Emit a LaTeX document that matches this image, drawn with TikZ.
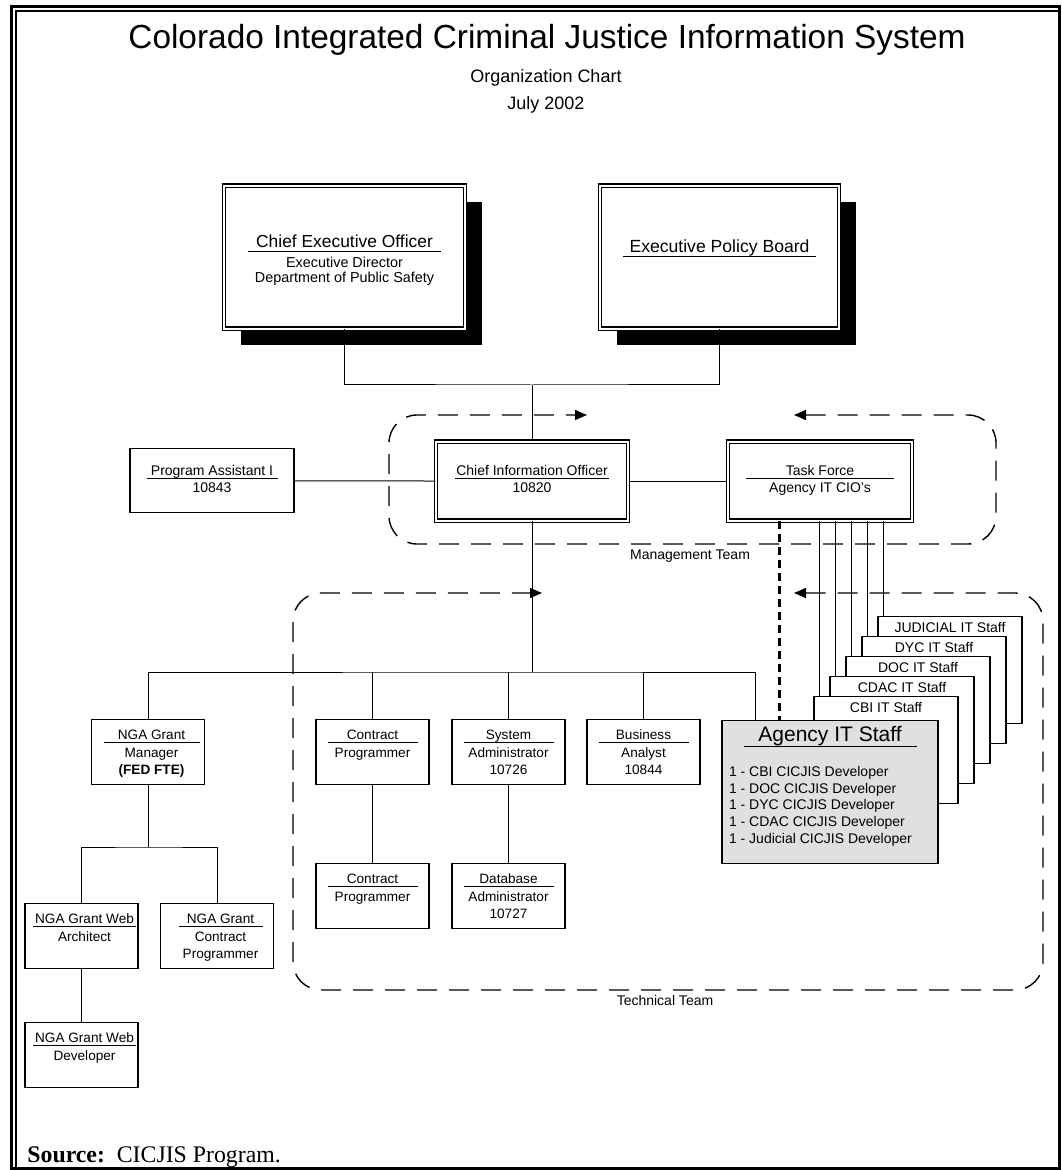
\documentclass[tikz,border=0pt]{standalone}
\usepackage{fontspec}
\setmainfont{Liberation Sans}
\newfontfamily\timesfont{Liberation Serif}
\usetikzlibrary{arrows.meta,calc,positioning,shadows}
\definecolor{staffgray}{gray}{0.88}
\newcommand{\fsz}[2]{\fontsize{#1}{#2}\selectfont}
\newcommand{\ulbox}[2]{\makebox[#1]{#2}\llap{\rule[-0.27em]{#1}{0.6pt}}}
\tikzset{%
	unit/.style n args = {3}{draw, fill=white, line width=0.6pt, inner sep=0pt, anchor=north,
		execute at begin node={\begin{minipage}[t][#2][t]{#1}\centering\rule{0pt}{#3}},
		execute at end node={\end{minipage}}}, % box, text at top
	chief/.style     = {double, double distance=0.9pt, line width=0.7pt}, % double border
	blackdrop/.style = {drop shadow={shadow xshift=8.5pt, shadow yshift=-8pt, fill=black, opacity=1}},
	post/.style      = {unit={56.5pt}{32.5pt}{10pt}, font={\fsz{6.8}{8.8}}},
	staff/.style     = {unit={72pt}{53.5pt}{8pt}, font={\fsz{7}{8.4}}},
	link/.style      = {line width=0.5pt},
	ciolink/.style   = {line width=1.6pt, dash pattern=on 4pt off 2.5pt},
	team/.style      = {line width=0.7pt, dash pattern=on 10pt off 6pt, rounded corners=14pt,
		>={Triangle[length=6pt,width=5pt]}, <->},
	teamlabel/.style = {anchor=base, font={\fsz{7}{8}}},
}

\begin{document}
\begin{tikzpicture}[x=0.5pt,y=-0.5pt]
	\useasboundingbox (0,0) rectangle (1061,1170);
	% frame
	\draw[line width=1.5pt] (11.5,6.5) rectangle (1059.5,1168.5);
	\draw[line width=1pt] (16,1168.5) |- (1059.5,11);

	\node[anchor=base, font={\fsz{16.7}{20}}] (title) at (547,49) {Colorado Integrated Criminal Justice Information System};
	\node[anchor=base, font={\fsz{9}{11}}] (subtitle) at (546,83) {Organization Chart};
	\node[anchor=base, font={\fsz{9}{10}}] (date) at (546,110) {July 2002};

	% top level
	\node[unit={120.5pt}{71.5pt}{31pt}, chief, blackdrop, font={\fsz{8.7}{10}}] (ceo) at (344.5,185)
		{\ulbox{96.5pt}{Chief Executive Officer}\par\vspace{1.5pt}\fsz{7.2}{7.4}Executive Director\\Department of Public Safety\par};
	\node[unit={119.5pt}{71.5pt}{33.5pt}, chief, blackdrop, font={\fsz{8.8}{10}}] (epb) at (719.5,185)
		{\ulbox{96.5pt}{Executive Policy Board}};

	% management team
	\node[unit={82pt}{32pt}{13.5pt}, font={\fsz{7}{8.5}}] (pa) at (212,448) {\ulbox{65.5pt}{Program Assistant I}\\10843};
	\node[unit={96pt}{39.5pt}{17pt}, chief, font={\fsz{7}{8.5}}] (cio) at (532,441) {\ulbox{77pt}{Chief Information Officer}\\10820};
	\node[unit={92pt}{39.5pt}{17pt}, chief, font={\fsz{7}{8.5}}] (tf) at (820,441) {\ulbox{74pt}{Task Force}\\Agency IT CIO's};

	% technical team
	\node[post] (cp1) at (372.5,719) {\ulbox{45pt}{Contract}\\Programmer};
	\node[post] (sa) at (508.5,719) {\ulbox{45pt}{System}\\Administrator\\10726};
	\node[post] (ba) at (643.5,719) {\ulbox{45pt}{Business}\\Analyst\\10844};
	\node[post] (cp2) at (372.5,863) {\ulbox{45pt}{Contract}\\Programmer};
	\node[post] (dba) at (508.5,863) {\ulbox{45pt}{Database}\\Administrator\\10727};

	% NGA grant
	\node[post, unit={60pt}{32.5pt}{10pt}] (nga) at (148,719) {\ulbox{48pt}{NGA Grant}\\Manager\\\textbf{(FED FTE)}};
	\node[post, unit={59.5pt}{32pt}{9.5pt}] (arch) at (81.5,903) {\ulbox{51pt}{NGA Grant Web}\\Architect};
	\node[post, unit={60pt}{32pt}{9.5pt}] (ngacp) at (217,903) {\ulbox{42pt}{NGA Grant}\\Contract\\Programmer};
	\node[post, unit={59.5pt}{32pt}{9.5pt}] (dev) at (81.5,1022) {\ulbox{51pt}{NGA Grant Web}\\Developer};

	% agency staff stack
	\foreach \s/\lbl [count=\i from 0] in {jud/JUDICIAL IT Staff, dyc/DYC IT Staff, doc/DOC IT Staff, cdac/CDAC IT Staff, cbi/CBI IT Staff}
		\node[staff] (\s) at (950-16*\i,616+20*\i) {\lbl};
	\node[unit={108pt}{71.5pt}{10.5pt}, fill=staffgray, font={\fsz{7}{8.35}}] (agency) at (830,720)
		{{\fsz{10.5}{12}\ulbox{86.5pt}{Agency IT Staff}\par}\vspace{9pt}\raggedright\leftskip=3.5pt
		1 - CBI CICJIS Developer\\1 - DOC CICJIS Developer\\1 - DYC CICJIS Developer\\
		1 - CDAC CICJIS Developer\\1 - Judicial CICJIS Developer\par};

	% connectors
	\coordinate (topbus) at (532,385);
	\coordinate (techbus) at (532,672);
	\coordinate (ngabus) at (148,847);
	\path (agency.north west) ++(34,0) coordinate (agdrop);
	\path (tf.south west) ++(52,0) coordinate (tfdash);
	\draw[link] (ceo.south) |- (topbus) -| (epb.south);
	\draw[link] (topbus) -- (cio.north);
	\draw[link] (pa) -- (cio);
	\draw[link] (cio) -- (tf);
	\draw[link] (cio.south) -- (techbus);
	\draw[link] (nga.north) |- (techbus) -| (agdrop);
	\foreach \n in {cp1,sa,ba}
		\draw[link] (\n.north) -- (\n.north |- techbus);
	\draw[link] (cp1) -- (cp2);
	\draw[link] (sa) -- (dba);
	\draw[link] (nga.south) -- (ngabus);
	\draw[link] (arch.north) |- (ngabus) -| (ngacp.north);
	\draw[link] (arch) -- (dev);
	\foreach \s in {cbi,cdac,doc,dyc,jud} {
		\path (\s.north west) ++(6,0) coordinate (\s top);
		\draw[link] (\s top) -- (\s top |- tf.south);
	}
	\draw[ciolink] (tfdash) -- (tfdash |- agency.north);

	% team outlines
	\draw[team] (794,415) -- (996,415) -- (996,544) -- (389,544) -- (389,415) -- (587,415);
	\draw[team] (794,593) -- (1043,593) -- (1043,990) -- (293,990) -- (293,593) -- (542,593);
	\node[teamlabel] (mgmt) at (690,559) {Management Team};
	\node[teamlabel] (tech) at (665,1005) {Technical Team};

	\node[anchor=base west, inner sep=0pt, font={\timesfont\fsz{11.9}{13}}] (source) at (27,1162) {\textbf{Source:}\ \ CICJIS Program.};
\end{tikzpicture}
\end{document}
